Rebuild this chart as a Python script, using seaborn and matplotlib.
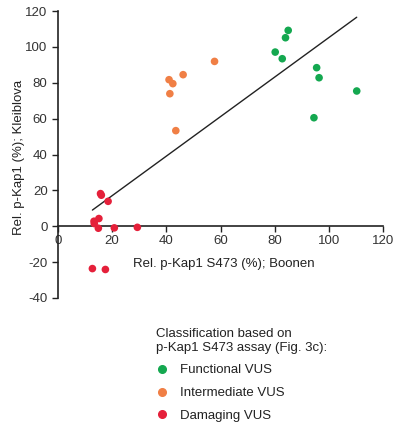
import matplotlib
matplotlib.use("Agg")
import matplotlib.pyplot as plt
import seaborn as sns
import pandas as pd
import numpy as np
from matplotlib.lines import Line2D

# Data
functional_x = [85.0, 84.0, 80.2, 82.8, 95.5, 96.4, 110.3, 94.5]
functional_y = [109.2, 105.1, 97.1, 93.4, 88.4, 82.8, 75.4, 60.5]
intermediate_x = [46.2, 41.0, 42.4, 41.3, 43.5, 57.8]
intermediate_y = [84.5, 81.7, 79.5, 73.9, 53.3, 91.9]
damaging_x = [15.7, 16.0, 18.5, 15.1, 13.3, 13.4, 14.9, 20.8, 29.3, 12.7, 17.5]
damaging_y = [18.2, 17.3, 13.9, 4.3, 2.8, 1.5, -1.1, -0.9, -0.6, -23.6, -24.1]

classes = ["Functional VUS", "Intermediate VUS", "Damaging VUS"]
colors = ["#14a850", "#f07f45", "#e5203a"]

x_ticks = [0, 20, 40, 60, 80, 100, 120]
y_ticks = [-40, -20, 0, 20, 40, 60, 80, 100, 120]

df = pd.DataFrame({
    "x": functional_x + intermediate_x + damaging_x,
    "y": functional_y + intermediate_y + damaging_y,
    "cls": [classes[0]] * len(functional_x) + [classes[1]] * len(intermediate_x)
           + [classes[2]] * len(damaging_x),
})

sns.set_style("white")
plt.rcParams["font.family"] = ["Liberation Sans", "DejaVu Sans"]

fig = plt.figure(figsize=(3.99, 4.25), dpi=100)
ax = fig.add_axes([58 / 399, 1 - 298 / 425, 325 / 399, 287 / 425])

sns.regplot(data=df, x="x", y="y", scatter=False, ci=None, truncate=True,
            line_kws=dict(color="#222222", lw=1.0), ax=ax)
sns.scatterplot(data=df, x="x", y="y", hue="cls", hue_order=classes,
                palette=colors, s=30, edgecolor="none", linewidth=0,
                ax=ax, legend=False, zorder=3)

ax.set_xlim(0, 120)
ax.set_ylim(-40, 120)
ax.set_xticks(x_ticks)
ax.set_yticks(y_ticks)
ax.set_xticklabels([str(t) for t in x_ticks])
ax.set_yticklabels([str(t) for t in y_ticks])

for s in ["top", "right"]:
    ax.spines[s].set_visible(False)
ax.spines["bottom"].set_position(("data", 0))
ax.spines["left"].set_position(("data", 0))
for s in ["bottom", "left"]:
    ax.spines[s].set_color("#222222")
    ax.spines[s].set_linewidth(1.2)

ax.tick_params(axis="both", which="major", length=4, width=1, color="#222222",
               labelsize=9.5, labelcolor="#333333", direction="out",
               bottom=True, left=True)
ax.tick_params(axis="x", pad=2)

ax.set_xlabel("Rel. p-Kap1 S473 (%); Boonen", fontsize=9.5, color="#222222")
ax.xaxis.set_label_coords(0.51, 0.14)
ax.set_ylabel("Rel. p-Kap1 (%); Kleiblova", fontsize=9.5, color="#222222")
ax.yaxis.set_label_coords(-0.10, 0.49)

handles = [Line2D([], [], marker="o", ls="", color=c, markersize=5.5) for c in colors]
leg = fig.legend(handles, classes, loc="upper left",
                 bbox_to_anchor=(144 / 399, 1 - 316 / 425),
                 title="Classification based on\np-Kap1 S473 assay (Fig. 3c):",
                 frameon=False, fontsize=9.5, title_fontsize=9.5,
                 labelspacing=0.8, handletextpad=0.8, handlelength=1.0,
                 alignment="left")
for t in leg.get_texts():
    t.set_color("#222222")
leg.get_title().set_color("#222222")

fig.savefig("out.png", dpi=100)
